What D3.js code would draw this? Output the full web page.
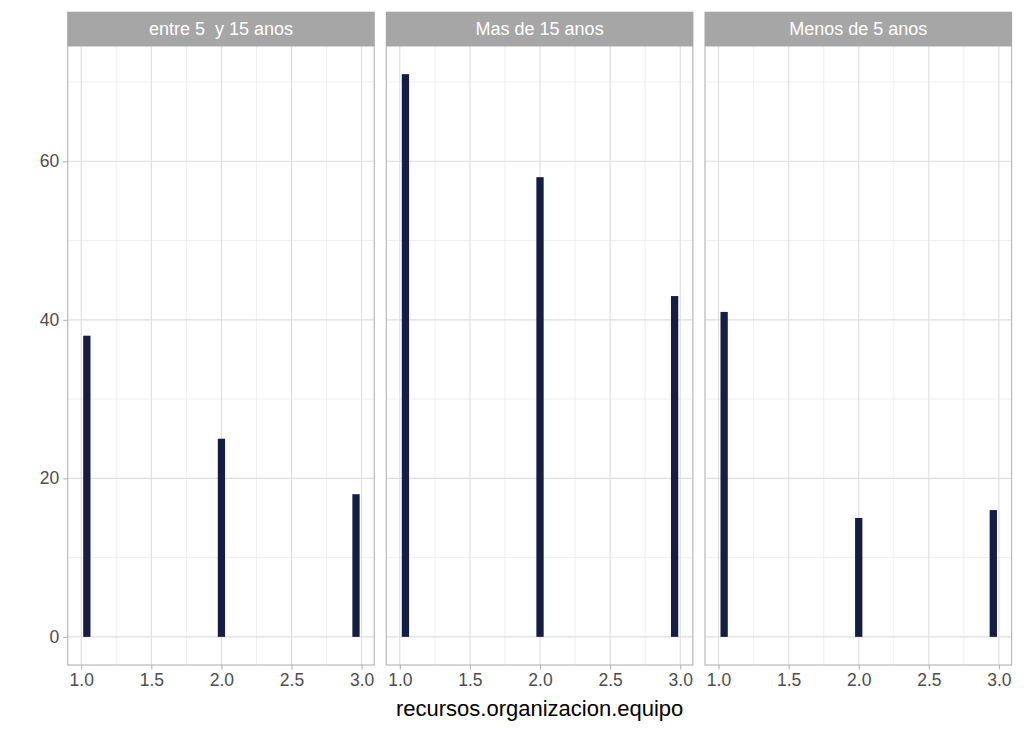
<!DOCTYPE html>
<html>
<head>
<meta charset="utf-8">
<script src="https://cdn.jsdelivr.net/npm/d3@7"></script>
<style>
  body { margin: 0; background: #fff; }
  text { font-family: "Liberation Sans", Arial, sans-serif; }
</style>
</head>
<body>
<div id="chart"></div>
<script>
// facet labels, in drawing order
var facets = ["entre 5  y 15 anos", "Mas de 15 anos", "Menos de 5 anos"];
// bin centres on the x axis
var binCenters = [1.04, 2.0, 2.96];
var binWidth = 0.052;
// counts per facet
var countsEntre = [38, 25, 18];
var countsMas = [71, 58, 43];
var countsMenos = [41, 15, 16];
var xTicks = [1.0, 1.5, 2.0, 2.5, 3.0];
var xMinor = [1.25, 1.75, 2.25, 2.75];
var yTicks = [0, 20, 40, 60];
var yMinor = [10, 30, 50, 70];

var allCounts = [countsEntre, countsMas, countsMenos];

var width = 1024, height = 731;
var svg = d3.select("#chart").append("svg")
    .attr("width", width)
    .attr("height", height);

var stripTop = 11.7, stripH = 34.3;
var panelTop = stripTop + stripH, panelBottom = 665;
var panelLefts = [67.7, 386.3, 705];
var panelW = 306.6;

var y = d3.scaleLinear()
    .domain([-3.55, 74.55])
    .range([panelBottom, panelTop]);

facets.forEach(function(name, i) {
    var left = panelLefts[i];
    var x = d3.scaleLinear()
        .domain([0.9035, 3.0905])
        .range([left, left + panelW]);

    var g = svg.append("g");

    // minor grid
    g.selectAll(".xminor").data(xMinor).enter().append("line")
        .attr("x1", function(d) { return x(d); })
        .attr("x2", function(d) { return x(d); })
        .attr("y1", panelTop).attr("y2", panelBottom)
        .style("stroke", "#e8e8e8").style("stroke-width", 0.7);
    g.selectAll(".yminor").data(yMinor).enter().append("line")
        .attr("x1", left).attr("x2", left + panelW)
        .attr("y1", function(d) { return y(d); })
        .attr("y2", function(d) { return y(d); })
        .style("stroke", "#e8e8e8").style("stroke-width", 0.7);

    // major grid
    g.selectAll(".xmajor").data(xTicks).enter().append("line")
        .attr("x1", function(d) { return x(d); })
        .attr("x2", function(d) { return x(d); })
        .attr("y1", panelTop).attr("y2", panelBottom)
        .style("stroke", "#dedede").style("stroke-width", 1.1);
    g.selectAll(".ymajor").data(yTicks).enter().append("line")
        .attr("x1", left).attr("x2", left + panelW)
        .attr("y1", function(d) { return y(d); })
        .attr("y2", function(d) { return y(d); })
        .style("stroke", "#dedede").style("stroke-width", 1.1);

    // bars
    g.selectAll(".bar").data(allCounts[i]).enter().append("rect")
        .attr("x", function(d, j) { return x(binCenters[j] - binWidth / 2); })
        .attr("width", function(d, j) { return x(binCenters[j] + binWidth / 2) - x(binCenters[j] - binWidth / 2); })
        .attr("y", function(d) { return y(d); })
        .attr("height", function(d) { return y(0) - y(d); })
        .style("fill", "#161d45");

    // panel border
    g.append("rect")
        .attr("x", left).attr("y", panelTop)
        .attr("width", panelW).attr("height", panelBottom - panelTop)
        .style("fill", "none").style("stroke", "#b3b3b3").style("stroke-width", 1.1);

    // strip
    g.append("rect")
        .attr("x", left - 0.5).attr("y", stripTop)
        .attr("width", panelW + 1).attr("height", stripH)
        .style("fill", "#a6a6a6");
    g.append("text")
        .attr("x", left + panelW / 2).attr("y", stripTop + stripH / 2)
        .attr("dy", "0.35em")
        .attr("text-anchor", "middle")
        .style("white-space", "pre")
        .style("fill", "#ffffff").style("font-size", "18px")
        .text(name);

    // x axis
    var xAxis = d3.axisBottom(x).tickValues(xTicks)
        .tickFormat(d3.format(".1f")).tickSize(4.5).tickPadding(4);
    var ax = g.append("g").attr("transform", "translate(0," + panelBottom + ")").call(xAxis);
    ax.select(".domain").remove();
    ax.selectAll("line").style("stroke", "#b3b3b3").style("stroke-width", 1.1);
    ax.selectAll("text").style("fill", "#4d4d4d").style("font-size", "17.5px")
        .style("font-family", "'Liberation Sans', Arial, sans-serif");

    // y axis only for first panel
    if (i === 0) {
        var yAxis = d3.axisLeft(y).tickValues(yTicks).tickSize(4.5).tickPadding(4);
        var ay = g.append("g").attr("transform", "translate(" + left + ",0)").call(yAxis);
        ay.select(".domain").remove();
        ay.selectAll("line").style("stroke", "#b3b3b3").style("stroke-width", 1.1);
        ay.selectAll("text").style("fill", "#4d4d4d").style("font-size", "17.5px")
            .style("font-family", "'Liberation Sans', Arial, sans-serif");
    }
});

// x axis title
svg.append("text")
    .attr("x", (panelLefts[0] + panelLefts[2] + panelW) / 2)
    .attr("y", 716)
    .attr("text-anchor", "middle")
    .style("fill", "#000").style("font-size", "22px")
    .text("recursos.organizacion.equipo");
</script>
</body>
</html>
